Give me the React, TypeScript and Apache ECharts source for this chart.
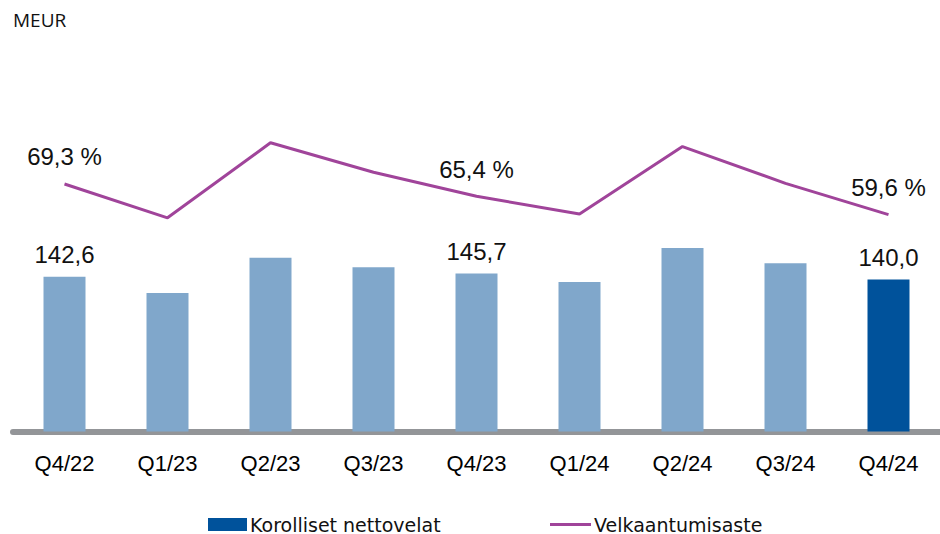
import React, { useEffect, useRef } from "react";
import * as echarts from "echarts";

const categories = ["Q4/22", "Q1/23", "Q2/23", "Q3/23", "Q4/23", "Q1/24", "Q2/24", "Q3/24", "Q4/24"];
const netDebt = [142.6, 127.6, 160.2, 151.3, 145.7, 137.8, 169.1, 155.0, 140.0];
const gearing = [69.3, 58.6, 82.3, 73.0, 65.4, 59.8, 81.1, 69.5, 59.6];
const labelledIdx = [0, 4, 8];
const barName = "Korolliset nettovelat";
const lineName = "Velkaantumisaste";
const unitLabel = "MEUR";

const LIGHT = "#80A7CB";
const DARK = "#00529B";
const PURPLE = "#A0449A";

export default function App() {
  const ref = useRef<HTMLDivElement>(null);
  useEffect(() => {
    if (!ref.current) return;
    const chart = echarts.init(ref.current, null, { renderer: "svg" });
    const fmt = (v: number) => v.toFixed(1).replace(".", ",");
    const legendText = { fontFamily: "DejaVu Sans", fontSize: 19, color: "#111", padding: [0, 0, 0, -2] };
    chart.setOption({
      animation: false,
      grid: { left: 13, right: -9, top: 31.5, bottom: 102.5, containLabel: false },
      xAxis: {
        type: "category",
        data: categories,
        offset: 3,
        axisLine: { lineStyle: { color: "#939598", width: 6 } },
        axisTick: { show: false },
        axisLabel: { color: "#000", fontFamily: "Liberation Sans, Arial", fontSize: 22, margin: 18 },
      },
      yAxis: [
        { type: "value", min: 0, max: 368.7, show: false, splitLine: { show: false } },
        { type: "value", min: -8.91, max: 117.47, show: false, splitLine: { show: false } },
      ],
      legend: [
        {
          left: 208,
          top: 515,
          padding: 0,
          itemWidth: 39,
          itemHeight: 13,
          textStyle: legendText,
          data: [{ name: barName, icon: "rect", itemStyle: { color: DARK } }],
        },
        {
          left: 550,
          top: 515,
          padding: 0,
          itemWidth: 41,
          itemHeight: 13,
          textStyle: legendText,
          data: [{ name: lineName, icon: "path://M0,0L41,0L41,3L0,3Z", itemStyle: { color: PURPLE } }],
        },
      ],
      graphic: [
        {
          type: "text",
          left: 13,
          top: 10,
          style: { text: unitLabel, fontFamily: "Open Sans", fontSize: 19, fill: "#111" },
        },
      ],
      series: [
        {
          name: barName,
          type: "bar",
          barWidth: 42,
          itemStyle: { color: DARK },
          data: netDebt.map((v, i) => ({
            value: v,
            itemStyle: { color: i === netDebt.length - 1 ? DARK : LIGHT },
            label: {
              show: labelledIdx.includes(i),
              position: "top",
              distance: 10,
              formatter: () => fmt(v),
              fontFamily: "Liberation Sans, Arial",
              fontSize: 24,
              color: "#111",
            },
          })),
        },
        {
          name: lineName,
          type: "line",
          yAxisIndex: 1,
          symbol: "none",
          lineStyle: { color: PURPLE, width: 3 },
          itemStyle: { color: PURPLE },
          data: gearing,
        },
        {
          name: "gearingLabels",
          type: "scatter",
          yAxisIndex: 1,
          symbolSize: 0,
          silent: true,
          itemStyle: { color: "transparent", opacity: 1 },
          data: gearing.map((v, i) => ({
            value: v,
            label: {
              show: labelledIdx.includes(i),
              position: "top",
              distance: 15,
              formatter: () => fmt(v) + " %",
              fontFamily: "Liberation Sans, Arial",
              fontSize: 24,
              color: "#111",
            },
          })),
        },
      ],
    });
    return () => chart.dispose();
  }, []);
  return <div ref={ref} style={{ width: 940, height: 534, position: "absolute", left: 0, top: 0 }} />;
}
